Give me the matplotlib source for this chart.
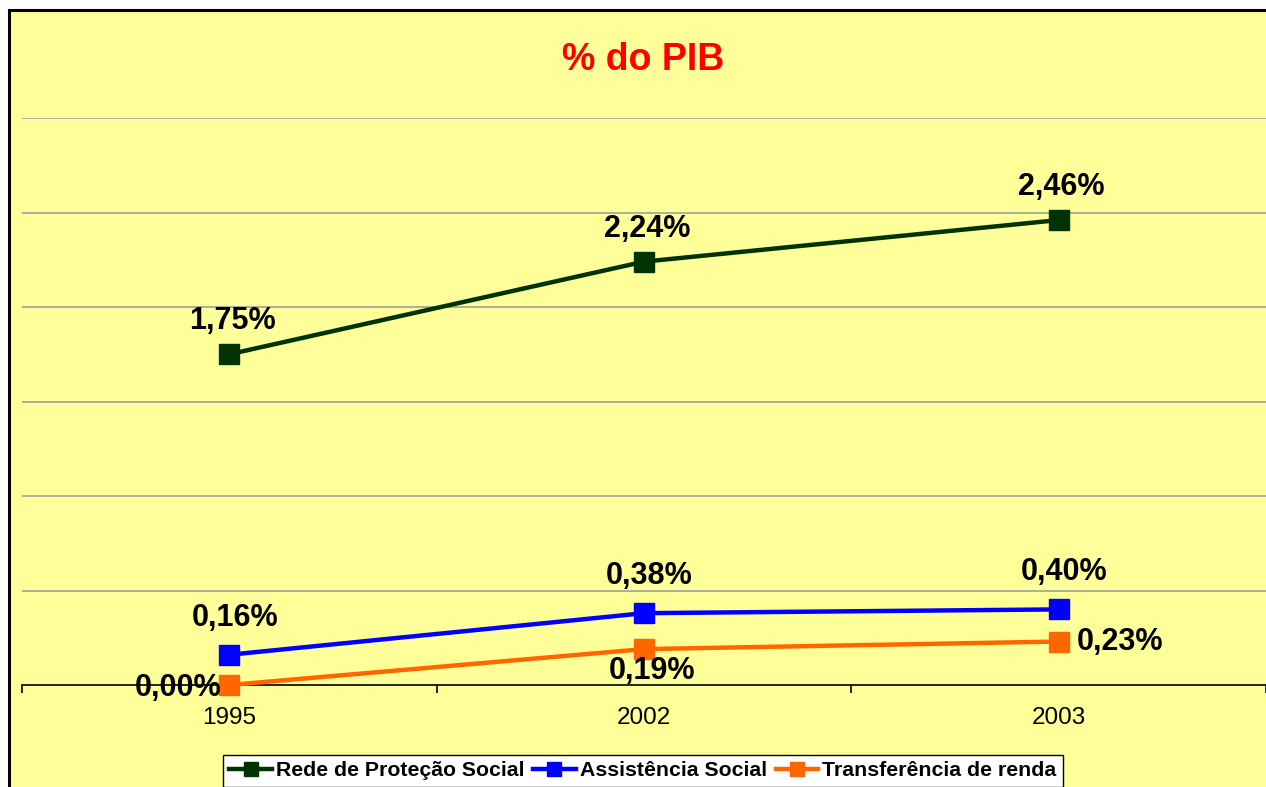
import matplotlib.pyplot as plt
from matplotlib.patches import Rectangle

years = ['1995', '2002', '2003']
rede = [1.75, 2.24, 2.46]
assist = [0.16, 0.38, 0.40]
transf = [0.00, 0.19, 0.23]
series_names = ['Rede de Proteção Social', 'Assistência Social', 'Transferência de renda']

bg = '#FFFF99'
plt.rcParams['font.family'] = ['Liberation Sans', 'DejaVu Sans']

W, H = 1266, 787
fig = plt.figure(figsize=(W / 100, H / 100), dpi=100, facecolor='white')

# outer chart frame (cropped on right and bottom)
fig.patches.append(Rectangle((9 / W, -0.05), 1.1, 1.05 - 10 / H, transform=fig.transFigure,
                             facecolor=bg, edgecolor='black', linewidth=2.2, zorder=-10))

ax = fig.add_axes([22 / W, 1 - 685 / H, (1266 - 22) / W, (685 - 118) / H])
ax.patch.set_alpha(0)

x = range(len(years))
ax.plot(x, rede, color='#003300', lw=3.2, marker='s', ms=15, label=series_names[0], zorder=3, clip_on=False)
ax.plot(x, assist, color='#0000FF', lw=3.2, marker='s', ms=15, label=series_names[1], zorder=3, clip_on=False)
ax.plot(x, transf, color='#FF6600', lw=3.2, marker='s', ms=15, label=series_names[2], zorder=3, clip_on=False)

ax.set_xlim(-0.5, 2.5)
ax.set_ylim(0, 3.0)
ax.set_yticks([0.5, 1.0, 1.5, 2.0, 2.5, 3.0])
ax.yaxis.grid(True, color='#A0A0A0', lw=1.2)
ax.set_axisbelow(True)
ax.tick_params(axis='y', left=False, labelleft=False)
for s in ['top', 'right', 'left']:
    ax.spines[s].set_visible(False)
ax.spines['bottom'].set_linewidth(1.2)

ax.set_xticks(list(x))
ax.set_xticklabels(years, fontsize=17.5)
ax.set_xticks([-0.5, 0.5, 1.5, 2.5], minor=True)
ax.tick_params(axis='x', which='major', length=0, pad=16)
ax.tick_params(axis='x', which='minor', length=6, width=1.2, direction='out')

fmt = lambda v: ('%.2f' % v).replace('.', ',') + '%'
lab = dict(fontsize=22, fontweight='bold', color='black', zorder=4)
for i, v in enumerate(rede):
    ax.annotate(fmt(v), (i, v), xytext=(2, 13), textcoords='offset points', ha='center', va='bottom', **lab)
for i, v in enumerate(assist):
    ax.annotate(fmt(v), (i, v), xytext=(4, 16), textcoords='offset points', ha='center', va='bottom', **lab)
ax.annotate(fmt(transf[0]), (0, transf[0]), xytext=(-6, -2), textcoords='offset points', ha='right', va='center', **lab)
ax.annotate(fmt(transf[1]), (1, transf[1]), xytext=(6, -16), textcoords='offset points', ha='center', va='center', **lab)
ax.annotate(fmt(transf[2]), (2, transf[2]), xytext=(13, 0), textcoords='offset points', ha='left', va='center', **lab)

fig.text(643 / W, 1 - 60 / H, '% do PIB', color='#FF0000', fontsize=27, fontweight='bold', ha='center', va='center')

leg = fig.legend(loc='upper left', bbox_to_anchor=(223 / W, 1 - 755 / H), ncol=3,
                 frameon=True, fancybox=False, edgecolor='black', facecolor='white', framealpha=1,
                 prop={'size': 15.3, 'weight': 'bold'}, handlelength=2.0, handletextpad=0.2,
                 columnspacing=0.4, borderpad=0.3, borderaxespad=0, markerscale=0.65)
leg.get_frame().set_linewidth(1.0)

fig.savefig('out.png', dpi=100, facecolor='white')
